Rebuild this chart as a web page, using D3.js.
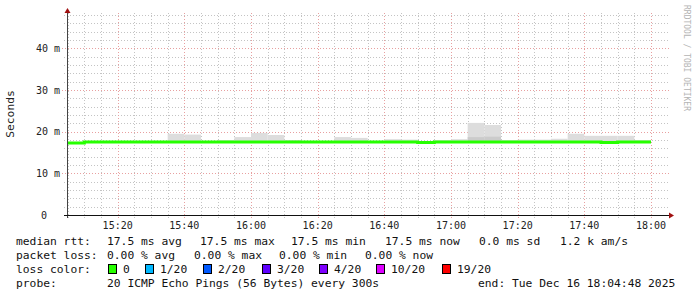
<!DOCTYPE html>
<html>
<head>
<meta charset="utf-8">
<style>
  body { margin: 0; background: #fff; }
  text { font-family: "DejaVu Sans Mono", monospace; }
</style>
</head>
<body>
<div id="container"></div>
<script src="https://cdn.jsdelivr.net/npm/d3@7"></script>
<script>
// interval end times (5 min steps)
const stepEnds = ["15:10","15:15","15:20","15:25","15:30","15:35","15:40","15:45","15:50","15:55",
  "16:00","16:05","16:10","16:15","16:20","16:25","16:30","16:35","16:40","16:45",
  "16:50","16:55","17:00","17:05","17:10","17:15","17:20","17:25","17:30","17:35",
  "17:40","17:45","17:50","17:55","18:00"];
// median rtt in ms
const medianMs = [17.3,17.5,17.5,17.5,17.5,17.5,17.5,17.5,17.5,17.5,
  17.5,17.5,17.5,17.5,17.5,17.5,17.5,17.5,17.5,17.5,
  17.5,17.4,17.5,17.5,17.5,17.5,17.5,17.5,17.5,17.5,
  17.5,17.5,17.4,17.5,17.5];
// top of the smoke (max ping) in ms
const smokeMaxMs = [17.5,17.5,17.5,17.5,17.5,17.5,19.5,19.3,17.5,18.0,
  18.7,19.7,19.2,17.9,17.5,17.5,18.7,18.5,17.5,18.2,
  18.1,17.4,18.0,18.2,22.1,21.6,18.0,18.1,18.1,18.3,
  19.5,19.0,19.0,19.0,18.0];
// darker inner band of the smoke in ms
const smokeInnerMs = [null,null,null,null,null,null,null,null,null,null,
  null,null,null,17.9,null,null,null,null,null,null,
  null,null,null,null,18.7,18.8,null,null,null,null,
  null,null,17.8,null,null];

const yTicks = [0, 10, 20, 30, 40];
const yTickLabels = ["0", "10 m", "20 m", "30 m", "40 m"];
const lossLabels = ["0", "1/20", "2/20", "3/20", "4/20", "10/20", "19/20"];
const lossColors = ["#26ff00", "#00b8ff", "#0059ff", "#5e00ff", "#7e00ff", "#dd00ff", "#ff0000"];

const W = 697, H = 297;
const start = new Date(2025, 11, 16, 15, 4, 48);
const end = new Date(2025, 11, 16, 18, 4, 48);
const parseT = s => { const [h, m] = s.split(":").map(Number); return new Date(2025, 11, 16, h, m, 0); };

const x = d3.scaleTime().domain([start, end]).range([67, 667]);
const y = d3.scaleLinear().domain([0, 48]).range([215, 15]);

const svg = d3.select("#container").append("svg")
  .attr("width", W).attr("height", H);
svg.append("rect").attr("width", W).attr("height", H).attr("fill", "#fff");

const rows = stepEnds.map((s, i) => {
  const t1 = parseT(s);
  return { t0: new Date(+t1 - 300000), t1, med: medianMs[i], max: smokeMaxMs[i], inner: smokeInnerMs[i] };
});

// grid
const grid = svg.append("g");
const minorY = d3.range(0, 49, 2).filter(v => v % 10 !== 0);
grid.selectAll(".hmin").data(minorY).join("line")
  .attr("x1", 64).attr("x2", 669)
  .attr("y1", d => Math.round(y(d)) + 0.5).attr("y2", d => Math.round(y(d)) + 0.5)
  .attr("stroke", "#c4c4c4").attr("stroke-dasharray", "1,2");
const minorX = d3.timeMinute.every(5).range(start, end).filter(d => d.getMinutes() % 20 !== 0);
grid.selectAll(".vmin").data(minorX).join("line")
  .attr("x1", d => Math.round(x(d)) + 0.5).attr("x2", d => Math.round(x(d)) + 0.5)
  .attr("y1", 13).attr("y2", 218)
  .attr("stroke", "#c4c4c4").attr("stroke-dasharray", "1,2");
grid.selectAll(".hmaj").data(yTicks.filter(v => v > 0)).join("line")
  .attr("x1", 62).attr("x2", 669)
  .attr("y1", d => Math.round(y(d)) + 0.5).attr("y2", d => Math.round(y(d)) + 0.5)
  .attr("stroke", "#e8a0a0").attr("stroke-dasharray", "1,2");
const majorX = d3.timeMinute.every(20).range(start, end);
grid.selectAll(".vmaj").data(majorX).join("line")
  .attr("x1", d => Math.round(x(d)) + 0.5).attr("x2", d => Math.round(x(d)) + 0.5)
  .attr("y1", 13).attr("y2", 219)
  .attr("stroke", "#e8a0a0").attr("stroke-dasharray", "1,2");

// smoke
svg.append("g").selectAll("rect").data(rows.filter(d => d.max > d.med)).join("rect")
  .attr("x", d => x(d.t0)).attr("width", d => x(d.t1) - x(d.t0))
  .attr("y", d => y(d.max)).attr("height", d => y(d.med) - y(d.max))
  .attr("fill", "#dddddd");
svg.append("g").selectAll("rect").data(rows.filter(d => d.inner != null)).join("rect")
  .attr("x", d => x(d.t0)).attr("width", d => x(d.t1) - x(d.t0))
  .attr("y", d => y(d.inner)).attr("height", d => y(d.med) - y(d.inner))
  .attr("fill", "#cbcbcb");

// median line
const pts = [];
rows.forEach(d => { pts.push([x(d.t0), y(d.med)]); pts.push([x(d.t1), y(d.med)]); });
svg.append("path").attr("d", d3.line()(pts))
  .attr("fill", "none").attr("stroke", "#26ff00").attr("stroke-width", 3);

// axes
svg.append("line").attr("x1", 67.5).attr("x2", 67.5).attr("y1", 218).attr("y2", 12)
  .attr("stroke", "#444");
svg.append("line").attr("x1", 64).attr("x2", 670).attr("y1", 215.5).attr("y2", 215.5)
  .attr("stroke", "#111");
svg.append("path").attr("d", "M64.5,13 L67.5,8 L70.5,13 Z").attr("fill", "#a01010");
svg.append("path").attr("d", "M669,212.5 L674,215.5 L669,218.5 Z").attr("fill", "#a01010");

// y labels
svg.append("g").selectAll("text").data(yTicks).join("text")
  .attr("x", (d, i) => i === 0 ? 47 : 60)
  .attr("y", d => y(d) + 3.5)
  .attr("text-anchor", "end").attr("font-size", "10px").attr("fill", "#222")
  .text((d, i) => yTickLabels[i]);

// x labels
const fmt = d3.timeFormat("%H:%M");
svg.append("g").selectAll("text").data(majorX).join("text")
  .attr("x", d => x(d)).attr("y", 229)
  .attr("text-anchor", "middle").attr("font-size", "10px").attr("fill", "#222")
  .text(d => fmt(d));

svg.append("text").attr("transform", "translate(14,114) rotate(-90)")
  .attr("text-anchor", "middle").attr("font-size", "11.3px").attr("fill", "#222")
  .text("Seconds");

svg.append("text").attr("transform", "translate(684,5) rotate(90)")
  .attr("font-size", "8px").attr("fill", "#b4b4b4")
  .text("RRDTOOL / TOBI OETIKER");

// legend
const lg = svg.append("g").attr("font-size", "11.3px").attr("fill", "#111");
const put = (tx, xx, yy) => lg.append("text").attr("x", xx).attr("y", yy).text(tx);
put("median rtt:", 16, 245);
[["17.5 ms avg", 107], ["17.5 ms max", 200], ["17.5 ms min", 291], ["17.5 ms now", 385], ["0.0 ms sd", 479], ["1.2 k am/s", 560]]
  .forEach(([t, xx]) => put(t, xx, 245));
put("packet loss:", 16, 259);
[["0.00 % avg", 107], ["0.00 % max", 194], ["0.00 % min", 279], ["0.00 % now", 365]]
  .forEach(([t, xx]) => put(t, xx, 259));
put("loss color:", 16, 273);
const boxX = [108, 145, 203, 262, 319, 376, 442];
lossLabels.forEach((l, i) => {
  lg.append("rect").attr("x", boxX[i] + 0.5).attr("y", 264.5).attr("width", 8).attr("height", 9)
    .attr("fill", lossColors[i]).attr("stroke", "#000");
  put(l, boxX[i] + 15, 273);
});
put("probe:", 16, 287);
put("20 ICMP Echo Pings (56 Bytes) every 300s", 107, 287);
put("end: Tue Dec 16 18:04:48 2025", 478, 287);
</script>
</body>
</html>
